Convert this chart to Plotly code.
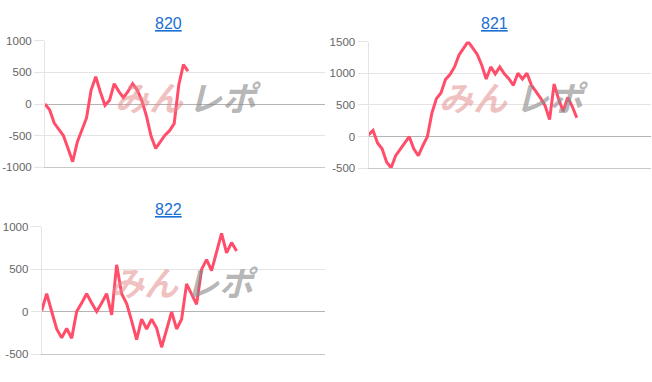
import plotly.graph_objects as go

titles = ["820", "821", "822"]

s820 = [0, -90, -300, -400, -500, -700, -910, -600, -400, -220, 220, 430, 190, -20, 60, 320, 200, 100, 200, 320, 220, 50, -190, -510, -700, -600, -490, -420, -310, 300, 620, 520]
s821 = [30, 100, -100, -190, -400, -490, -300, -200, -100, 0, -190, -300, -140, 0, 370, 600, 690, 900, 980, 1100, 1290, 1400, 1500, 1400, 1300, 1130, 910, 1100, 990, 1100, 990, 915, 810, 1000, 910, 1000, 810, 710, 610, 490, 270, 830, 590, 400, 620, 480, 300]
s822 = [10, 210, 0, -205, -310, -200, -315, 0, 100, 210, 100, 0, 100, 210, -40, 550, 210, 95, -110, -330, -90, -205, -90, -195, -420, -205, -5, -205, -90, 325, 212, 85, 496, 610, 480, 705, 920, 690, 812, 712]

series = [s820, s821, s822]
yranges = [[-1000, 1000], [-500, 1500], [-500, 1000]]
ytickvals = [[-1000, -500, 0, 500, 1000], [-500, 0, 500, 1000, 1500], [-500, 0, 500, 1000]]
xmax = [60.7, 62.4, 56.7]

W, H = 652, 382
# plot areas in pixels: (left, right, top, bottom)
areas = [(45, 325, 35.7, 166.7), (368.5, 651, 36.7, 167.7), (41.7, 325, 227.7, 359.3)]
title_pos = [(168, 18), (495, 18), (168, 210)]
wm_pos = [((149, 93), (225, 93)), ((473, 93), (552, 93)), ((144, 284), (222, 284))]

LINE = "rgb(255,77,106)"
fig = go.Figure()
layout = dict(width=W, height=H, margin=dict(l=0, r=0, t=0, b=0),
              paper_bgcolor="white", plot_bgcolor="white", showlegend=False,
              font=dict(family="Liberation Sans, Arial, sans-serif", color="#666", size=11))
annotations = []
for i, (s, area) in enumerate(zip(series, areas)):
    n = i + 1
    xa = "x" if n == 1 else f"x{n}"
    ya = "y" if n == 1 else f"y{n}"
    fig.add_trace(go.Scatter(x=list(range(len(s))), y=s, mode="lines",
                             line=dict(color=LINE, width=3), xaxis=xa, yaxis=ya,
                             hoverinfo="skip"))
    l, r, t, b = area
    xkey = "xaxis" if n == 1 else f"xaxis{n}"
    ykey = "yaxis" if n == 1 else f"yaxis{n}"
    layout[xkey] = dict(domain=[l / W, r / W], range=[0, xmax[i]], showgrid=False,
                        zeroline=False, showticklabels=False, ticks="",
                        showline=True, linecolor="#c8c8c8", linewidth=1,
                        anchor=ya)
    layout[ykey] = dict(domain=[1 - b / H, 1 - t / H], range=yranges[i],
                        tickvals=ytickvals[i], ticktext=[str(v) for v in ytickvals[i]],
                        showgrid=True, gridcolor="#e4e4e4", gridwidth=1,
                        zeroline=True, zerolinecolor="#b4b4b4", zerolinewidth=1,
                        showline=True, linecolor="#e4e4e4", linewidth=1,
                        ticks="outside", ticklen=10, tickcolor="#e4e4e4",
                        tickfont=dict(size=11.5, color="#666"), anchor=xa)
    tx, ty = title_pos[i]
    annotations.append(dict(text=f"<u>{titles[i]}</u>", x=tx / W, y=1 - ty / H,
                            xref="paper", yref="paper", showarrow=False,
                            font=dict(size=16, color="#1a6fd4"),
                            xanchor="center", yanchor="middle"))
    (px, py), (gx, gy) = wm_pos[i]
    annotations.append(dict(text="<b><i>みん</i></b>", x=px / W, y=1 - py / H,
                            xref="paper", yref="paper", showarrow=False,
                            font=dict(size=34, color="rgba(228,140,140,0.55)",
                                      family="Noto Sans CJK JP", weight=900),
                            xanchor="center", yanchor="middle"))
    annotations.append(dict(text="<b><i>レポ</i></b>", x=gx / W, y=1 - gy / H,
                            xref="paper", yref="paper", showarrow=False,
                            font=dict(size=34, color="rgba(140,140,140,0.65)",
                                      family="Noto Sans CJK JP", weight=900),
                            xanchor="center", yanchor="middle"))
layout["annotations"] = annotations
fig.update_layout(**layout)
fig.write_html("out.html")
